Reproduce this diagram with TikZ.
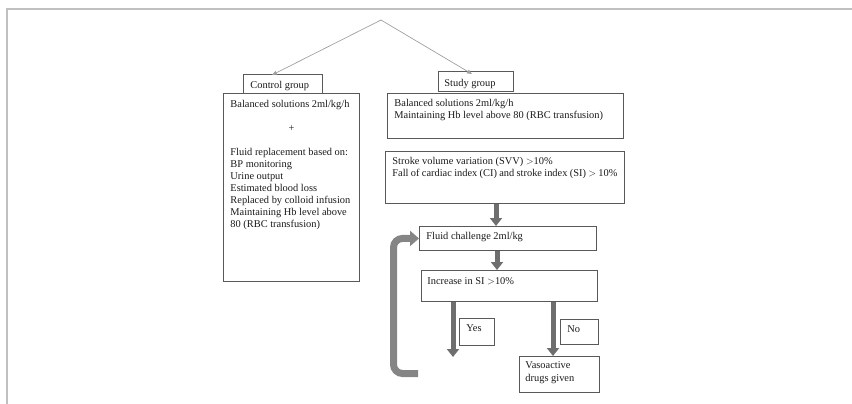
\documentclass[tikz,border=0pt]{standalone}
\usepackage{fontspec}
\setmainfont{Liberation Serif}
\usetikzlibrary{arrows.meta}
\definecolor{boxc}{HTML}{595959}
\definecolor{fatc}{HTML}{6E6E6E}
\definecolor{loopc}{HTML}{858585}
\definecolor{thinc}{HTML}{A0A0A0}
\definecolor{framec}{HTML}{C0C0C0}
\definecolor{txtc}{HTML}{1A1A1A}
\newcommand{\fs}{\fontsize{10.4}{12}\selectfont}
% width, height, top gap, text
\newcommand{\bxt}[4]{\parbox[c][#2][t]{#1}{\raggedright\vspace*{#3}\strut #4}}
\hbadness=10000 \hfuzz=20pt
\begin{document}
\begin{tikzpicture}[x=1pt,y=-1pt,
  bx/.style={draw=boxc, line width=0.9pt, inner ysep=0pt, anchor=north west, font=\fs, text=txtc},
  thinar/.style={draw=thinc, line width=0.7pt, -{Triangle[length=5pt,width=4pt]}},
  fatar/.style={draw=fatc, line width=5pt, -{Triangle[length=8pt,width=12pt]}},
  loopar/.style={draw=loopc, line width=7pt, rounded corners=9pt, -{Triangle[length=9pt,width=15pt]}}]
\useasboundingbox (0,0) rectangle (852,404);
% frame
\draw[framec, line width=1.5pt] (7,404) -- (7,9) -- (852,9);
% boxes
\node[bx, inner xsep=7pt] (clab) at (243,74) {\bxt{65pt}{19pt}{6.1pt}{Control group}};
\node[bx, inner xsep=7pt] (cmain) at (223,93) {\bxt{122pt}{188pt}{6.1pt}{Balanced solutions 2ml/kg/h\\[12pt]
  \makebox[\linewidth]{+}\\[12pt]
  Fluid replacement based on:\\
  BP monitoring\\
  Urine output\\
  Estimated blood loss\\
  Replaced by colloid infusion\\
  Maintaining Hb level above\\
  80 (RBC transfusion)}};
\node[bx, inner xsep=6pt] (slab) at (438,71) {\bxt{63pt}{20pt}{7.1pt}{Study group}};
\node[bx, inner xsep=7pt] (smain) at (387,93) {\bxt{222pt}{45pt}{5.1pt}{Balanced solutions 2ml/kg/h\\
  Maintaining Hb level above 80 (RBC transfusion)}};
\node[bx, inner xsep=7pt] (svv) at (385,151) {\bxt{225pt}{52pt}{4.6pt}{Stroke volume variation (SVV) $>$10\%\\
  Fall of cardiac index (CI) and stroke index (SI) $>$ 10\%}};
\node[bx, inner xsep=7pt] (fluid) at (419,226) {\bxt{163pt}{24pt}{5.1pt}{Fluid challenge 2ml/kg}};
\node[bx, inner xsep=6pt] (inc) at (421,270) {\bxt{164pt}{31pt}{6.1pt}{Increase in SI $>$10\%}};
\node[bx, inner xsep=7pt] (yes) at (459,318) {\bxt{21pt}{27pt}{5.1pt}{Yes}};
\node[bx, inner xsep=7pt] (no) at (560,319) {\bxt{24pt}{25pt}{5.1pt}{No}};
\node[bx, inner xsep=6pt] (vaso) at (519,356) {\bxt{68pt}{36pt}{4.1pt}{Vasoactive\\[1pt] drugs given}};
% coordinates
\coordinate (apex) at (381,20);
\coordinate (cend) at (272,75);
\coordinate (send) at (472,74);
\coordinate (yesend) at (453,357);
\coordinate (loopstart) at (418,373.5);
% connectors
\draw[thinar] (apex) -- (cend);
\draw[thinar] (apex) -- (send);
\draw[fatar] ([xshift=111pt]svv.south west) -- ([xshift=77pt]fluid.north west);
\draw[fatar] ([xshift=78pt]fluid.south west) -- ([xshift=76pt]inc.north west);
\draw[fatar] ([xshift=32pt]inc.south west) -- (yesend);
\draw[fatar] ([xshift=132pt]inc.south west) -- ([xshift=34pt]vaso.north west);
\draw[loopar] (loopstart) -- ++(-24.5,0) |- (fluid.west);
\end{tikzpicture}
\end{document}
